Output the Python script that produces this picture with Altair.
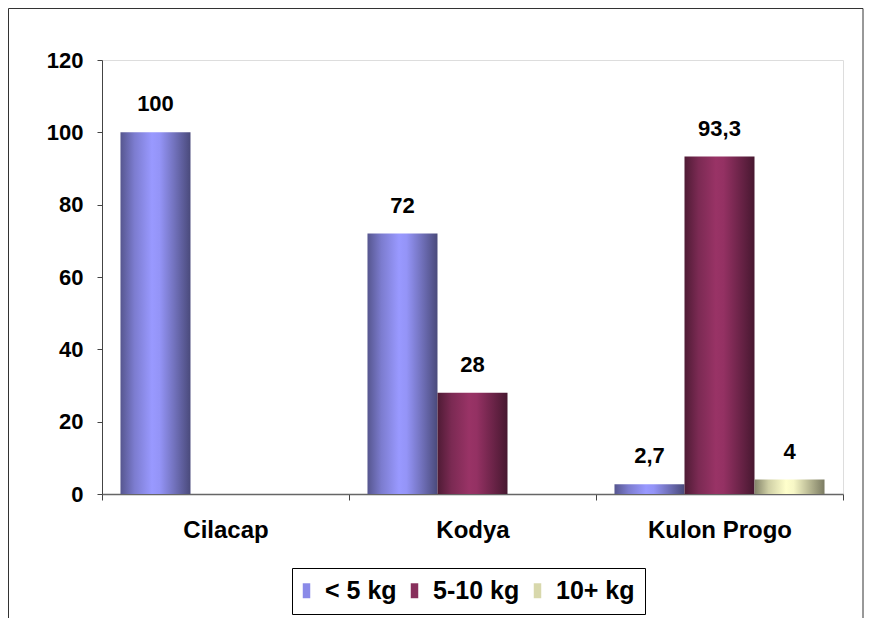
import altair as alt
import pandas as pd

regions = ["Cilacap", "Kodya", "Kulon Progo"]
series = ["< 5 kg", "5-10 kg", "10+ kg"]

rec_region = ["Cilacap", "Kodya", "Kodya", "Kulon Progo", "Kulon Progo", "Kulon Progo"]
rec_series = ["< 5 kg", "< 5 kg", "5-10 kg", "< 5 kg", "5-10 kg", "10+ kg"]
rec_value = [100, 72, 28, 2.7, 93.3, 4]
rec_label = ["100", "72", "28", "2,7", "93,3", "4"]

df = pd.DataFrame({"region": rec_region, "series": rec_series,
                   "value": rec_value, "label": rec_label})

FONT = "Liberation Sans"


def grad(stops):
    return alt.LinearGradient(
        gradient="linear", x1=0, x2=1, y1=0, y2=0,
        stops=[alt.GradientStop(offset=o, color=c) for o, c in stops])


gradients = {
    "< 5 kg": grad([(0, "#56568f"), (0.2, "#7c7ccf"), (0.45, "#9999ff"),
                    (0.56, "#9494f7"), (0.75, "#7575c2"), (1, "#4a4a7b")]),
    "5-10 kg": grad([(0, "#4f1b35"), (0.2, "#7b2a53"), (0.45, "#993366"),
                     (0.56, "#943163"), (0.75, "#73264d"), (1, "#471830")]),
    "10+ kg": grad([(0, "#838369"), (0.2, "#cfcfa5"), (0.45, "#ffffcc"),
                    (0.56, "#f7f7c6"), (0.75, "#c2c29b"), (1, "#7b7b62")]),
}
flat = ["#8a8ae8", "#88305c", "#d8d8ac"]

x_enc = alt.X("region:N", sort=regions,
              scale=alt.Scale(domain=regions, paddingInner=0, paddingOuter=0),
              axis=alt.Axis(title=None, labelAngle=0, labelFont=FONT,
                            labelFontSize=24, labelFontWeight="bold",
                            labelColor="black", labelPadding=18,
                            tickBand="extent", tickSize=6, tickColor="#444444",
                            domainColor="#666666", domainWidth=1.5,
                            grid=False))
xo_enc = alt.XOffset("series:N", sort=series,
                     scale=alt.Scale(domain=series, paddingOuter=0.264,
                                     paddingInner=0))
y_enc = alt.Y("value:Q",
              scale=alt.Scale(domain=[0, 120], nice=False),
              axis=alt.Axis(title=None, values=[0, 20, 40, 60, 80, 100, 120],
                            labelFont=FONT, labelFontSize=22,
                            labelFontWeight="bold", labelColor="black",
                            labelPadding=14, tickSize=5, tickColor="#444444",
                            domainColor="#444444", grid=False))

base = alt.Chart(df).encode(x=x_enc, xOffset=xo_enc, y=y_enc)

layers = []
for s in series:
    layers.append(base.transform_filter(alt.datum.series == s)
                  .mark_bar(color=gradients[s]))

legend_layer = base.transform_filter("false").mark_bar().encode(
    color=alt.Color("series:N", sort=series,
                    scale=alt.Scale(domain=series, range=flat),
                    legend=alt.Legend(
                        title=None, orient="none", legendX=190, legendY=508,
                        direction="horizontal", strokeColor="black",
                        padding=10, labelFont=FONT, labelFontSize=25,
                        labelFontWeight="bold", labelColor="black",
                        symbolType="M-1,-2L1,-2L1,2L-1,2Z",
                        symbolSize=56, symbolStrokeWidth=0,
                        symbolOffset=-8,
                        labelOffset=6, columnPadding=13)))

labels = base.mark_text(font=FONT, fontSize=22, fontWeight="bold",
                        color="black", baseline="alphabetic",
                        dy=-21).encode(text="label:N")

frame_df = pd.DataFrame({"a": [0]})
frame = alt.Chart(frame_df)
left = frame.mark_rule(color="#333333", strokeWidth=1).encode(
    x=alt.value(-93.5), y=alt.value(-51.5), y2=alt.value(558))
top = frame.mark_rule(color="#333333", strokeWidth=1).encode(
    x=alt.value(-93.5), x2=alt.value(761), y=alt.value(-51.5))
right = frame.mark_rule(color="#333333", strokeWidth=1).encode(
    x=alt.value(761), y=alt.value(-51.5), y2=alt.value(558))

chart = alt.layer(*layers, legend_layer, labels, left, top, right).properties(
    width=741, height=434, padding=0
).configure_view(stroke=None).configure(background="white")

chart.save("out.html", embed_options={"renderer": "svg", "actions": False})
